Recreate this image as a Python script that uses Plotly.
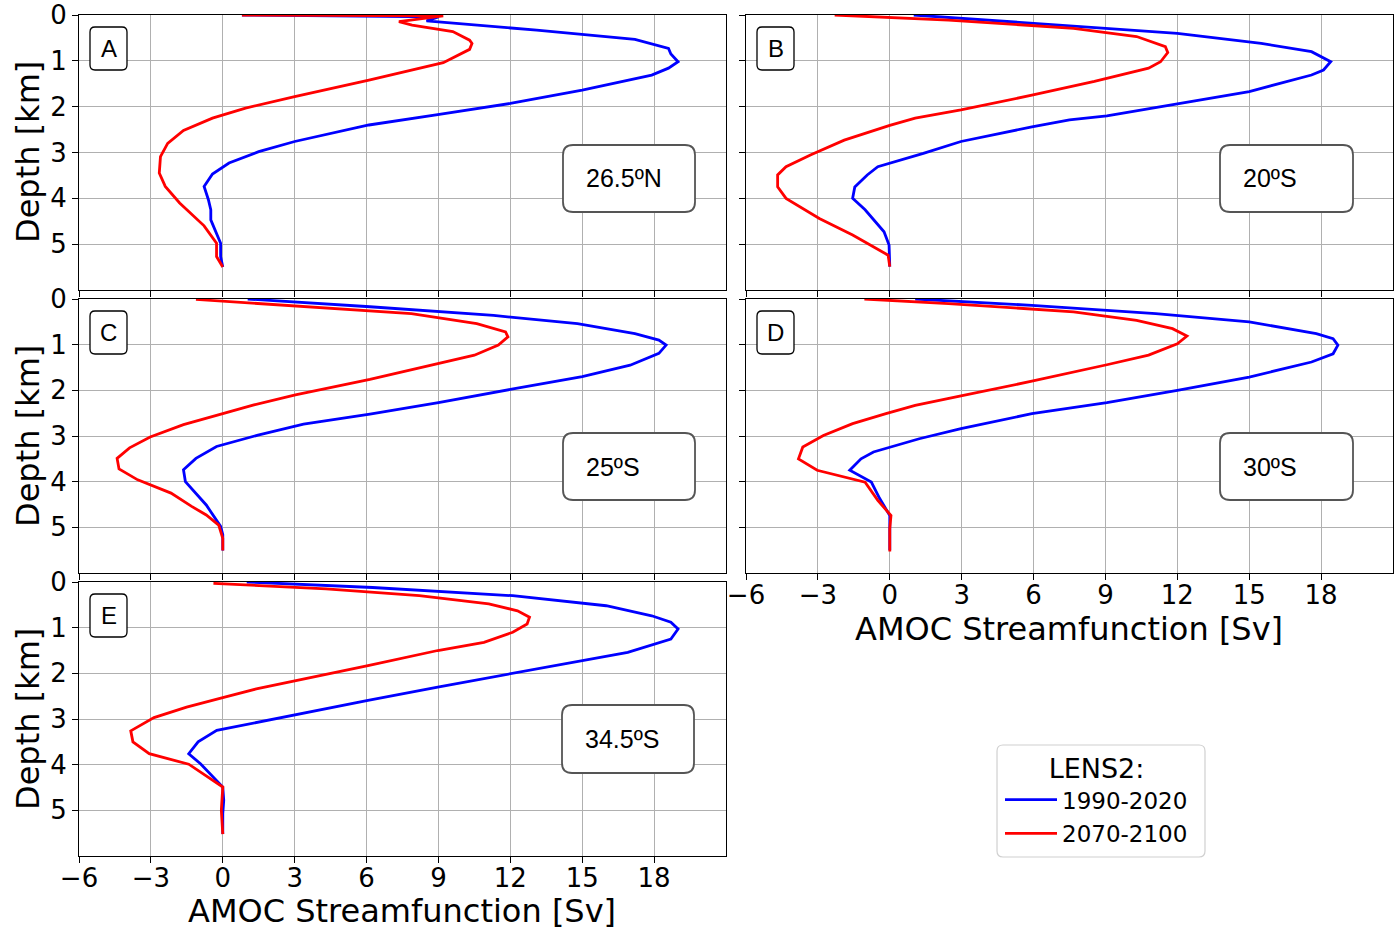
import plotly.graph_objects as go

# ---------------- data (depth in km, AMOC in Sv) ----------------
A_depth_1990 = [0, 0.04, 0.13, 0.33, 0.53, 0.73, 0.85, 1.02, 1.16, 1.31, 1.64, 1.93, 2.18, 2.40, 2.76, 2.98, 3.23, 3.47, 3.74, 4.03, 4.25, 4.47, 4.98, 5.27, 5.5]
A_amoc_1990 = [0.8, 9.0, 8.5, 13.1, 17.2, 18.6, 18.7, 19.0, 18.6, 17.9, 15.0, 12.0, 8.9, 6.1, 3.0, 1.5, 0.26, -0.43, -0.78, -0.6, -0.5, -0.5, -0.09, -0.09, 0.0]
A_depth_2070 = [0, 0.02, 0.145, 0.22, 0.36, 0.55, 0.62, 0.75, 1.04, 1.2, 1.42, 1.78, 2.03, 2.25, 2.52, 2.8, 3.09, 3.45, 3.74, 4.1, 4.6, 4.98, 5.27, 5.5]
A_amoc_2070 = [0.8, 9.2, 7.35, 7.9, 9.6, 10.3, 10.4, 10.3, 9.2, 7.9, 6.1, 3.0, 0.95, -0.43, -1.64, -2.3, -2.6, -2.65, -2.4, -1.8, -0.78, -0.26, -0.26, 0.0]

B_depth_1990 = [0, 0.18, 0.4, 0.62, 0.8, 1.02, 1.2, 1.31, 1.67, 1.94, 2.2, 2.29, 2.44, 2.76, 3.02, 3.31, 3.49, 3.75, 4.0, 4.25, 4.73, 5.02, 5.27, 5.49]
B_amoc_1990 = [1.0, 5.9, 12.0, 15.5, 17.6, 18.4, 18.1, 17.6, 15.0, 12.0, 9.06, 7.5, 5.93, 2.97, 1.4, -0.5, -0.94, -1.46, -1.55, -1.03, -0.24, -0.03, 0.0, 0.0]
B_depth_2070 = [0, 0.11, 0.29, 0.47, 0.69, 0.82, 1.02, 1.16, 1.45, 1.75, 2.07, 2.25, 2.41, 2.73, 3.05, 3.31, 3.49, 3.75, 4.0, 4.44, 4.8, 5.24, 5.49]
B_amoc_2070 = [-2.3, 2.45, 7.67, 10.3, 11.5, 11.6, 11.3, 10.8, 8.54, 5.93, 2.97, 1.06, 0.0, -1.9, -3.29, -4.33, -4.68, -4.68, -4.33, -2.94, -1.55, -0.07, 0.0]

C_depth_1990 = [0, 0.17, 0.36, 0.54, 0.76, 0.9, 1.01, 1.19, 1.45, 1.7, 1.98, 2.27, 2.52, 2.74, 2.98, 3.23, 3.49, 3.74, 4.0, 4.51, 4.98, 5.16, 5.51]
C_amoc_1990 = [1.04, 6.14, 11.3, 14.8, 17.2, 18.2, 18.5, 18.2, 17.0, 15.0, 12.0, 9.0, 6.14, 3.37, 1.47, -0.26, -1.12, -1.64, -1.56, -0.69, -0.09, 0.0, 0.0]
C_depth_2070 = [0.01, 0.14, 0.32, 0.54, 0.72, 0.83, 1.01, 1.23, 1.45, 1.76, 2.1, 2.32, 2.51, 2.75, 3.02, 3.26, 3.49, 3.72, 3.96, 4.25, 4.54, 4.73, 4.95, 5.24, 5.51]
C_amoc_2070 = [-1.12, 2.68, 7.87, 10.6, 11.8, 11.9, 11.5, 10.5, 8.74, 6.14, 3.03, 1.3, 0.0, -1.64, -3.03, -3.89, -4.41, -4.33, -3.55, -2.16, -1.3, -0.69, -0.17, 0.0, 0.0]

D_depth_1990 = [0, 0.14, 0.32, 0.5, 0.76, 0.87, 1.01, 1.2, 1.38, 1.71, 2.0, 2.27, 2.51, 2.84, 3.06, 3.24, 3.35, 3.5, 3.75, 4.01, 4.37, 4.74, 5.03, 5.5]
D_amoc_1990 = [1.06, 5.93, 11.1, 15.0, 17.8, 18.5, 18.7, 18.5, 17.6, 15.0, 12.0, 9.06, 5.93, 2.97, 1.23, 0.0, -0.68, -1.2, -1.67, -0.77, -0.42, 0.0, 0.0, 0.0]
D_depth_2070 = [0, 0.1, 0.28, 0.47, 0.65, 0.81, 0.98, 1.23, 1.44, 1.8, 2.12, 2.33, 2.51, 2.73, 2.99, 3.24, 3.5, 3.75, 4.01, 4.41, 4.74, 5.03, 5.53]
D_amoc_2070 = [-1.06, 2.45, 7.67, 10.3, 11.8, 12.4, 12.0, 10.8, 9.06, 5.93, 2.97, 1.06, -0.16, -1.55, -2.77, -3.63, -3.81, -3.03, -1.03, -0.5, 0.05, 0.0, 0.0]

E_depth_1990 = [0, 0.12, 0.3, 0.52, 0.74, 0.88, 1.03, 1.25, 1.54, 1.72, 2.01, 2.3, 2.59, 2.92, 3.07, 3.25, 3.5, 3.76, 3.98, 4.49, 4.78, 5.07, 5.52]
E_amoc_1990 = [1.0, 6.25, 12.1, 16.0, 17.9, 18.7, 19.0, 18.7, 16.9, 15.0, 12.0, 8.97, 6.06, 2.95, 1.59, -0.25, -1.03, -1.42, -0.93, 0.0, 0.04, 0.0, 0.0]
E_depth_2070 = [0.03, 0.15, 0.3, 0.48, 0.63, 0.77, 0.92, 1.1, 1.32, 1.5, 1.83, 2.16, 2.34, 2.53, 2.74, 2.97, 3.26, 3.5, 3.76, 3.99, 4.49, 5.0, 5.52]
E_amoc_2070 = [-0.39, 4.31, 8.2, 11.1, 12.3, 12.8, 12.7, 12.1, 10.9, 8.97, 6.06, 2.95, 1.4, 0.0, -1.51, -2.87, -3.84, -3.75, -3.07, -1.42, 0.0, -0.06, 0.0]

panel_letters = ["A", "B", "C", "D", "E"]
panel_latitudes = ["26.5ºN", "20ºS", "25ºS", "30ºS", "34.5ºS"]
period_names = ["1990-2020", "2070-2100"]
period_colors = ["#0000ff", "#ff0000"]
x_tickvals = [-6, -3, 0, 3, 6, 9, 12, 15, 18]
y_tickvals = [0, 1, 2, 3, 4, 5]

series = [
    (A_depth_1990, A_amoc_1990, A_depth_2070, A_amoc_2070),
    (B_depth_1990, B_amoc_1990, B_depth_2070, B_amoc_2070),
    (C_depth_1990, C_amoc_1990, C_depth_2070, C_amoc_2070),
    (D_depth_1990, D_amoc_1990, D_depth_2070, D_amoc_2070),
    (E_depth_1990, E_amoc_1990, E_depth_2070, E_amoc_2070),
]

# ---------------- layout geometry (pixels) ----------------
W, H = 1394, 930
panels_px = [
    (79, 15, 726, 290),
    (746, 15, 1393, 290),
    (79, 299, 726, 573),
    (746, 299, 1393, 573),
    (79, 582, 726, 856),
]
lat_boxes_px = [
    (563, 145, 695, 212),
    (1220, 145, 1353, 212),
    (563, 433, 695, 500),
    (1220, 433, 1353, 500),
    (562, 705, 694, 773),
]
show_xlabels = [False, False, False, True, True]
show_ylabels = [True, False, True, False, True]


def px(x):
    return x / W


def py(y):
    return 1 - y / H


def rounded_path(x0, y0, x1, y1, r):
    pts = [
        ("M", (x0 + r, y0)),
        ("L", (x1 - r, y0)),
        ("Q", (x1, y0), (x1, y0 + r)),
        ("L", (x1, y1 - r)),
        ("Q", (x1, y1), (x1 - r, y1)),
        ("L", (x0 + r, y1)),
        ("Q", (x0, y1), (x0, y1 - r)),
        ("L", (x0, y0 + r)),
        ("Q", (x0, y0), (x0 + r, y0)),
    ]
    s = ""
    for item in pts:
        cmd = item[0]
        coords = " ".join(f"{px(p[0]):.5f},{py(p[1]):.5f}" for p in item[1:])
        s += f"{cmd} {coords} "
    return s + "Z"


fig = go.Figure()
layout = dict(
    width=W, height=H,
    margin=dict(l=0, r=0, t=0, b=0, autoexpand=False),
    paper_bgcolor="white", plot_bgcolor="white",
    font=dict(family="DejaVu Sans", color="black"),
    showlegend=True,
)

shapes = []
annotations = []
for i, (x0, y0, x1, y1) in enumerate(panels_px):
    n = "" if i == 0 else str(i + 1)
    xa, ya = "x" + n, "y" + n
    d1, v1, d2, v2 = series[i]
    for k, (dd, vv) in enumerate([(d1, v1), (d2, v2)]):
        fig.add_trace(go.Scatter(
            x=vv, y=dd, mode="lines", name=period_names[k],
            line=dict(color=period_colors[k], width=2.8),
            xaxis=xa, yaxis=ya, showlegend=(i == 0),
            legendgroup=period_names[k],
        ))
    layout["xaxis" + n] = dict(
        domain=[px(x0), px(x1)], anchor=ya, range=[-6, 21],
        tickvals=x_tickvals, showticklabels=show_xlabels[i],
        ticks="outside", ticklen=6, tickcolor="black", tickwidth=1,
        ticklabelstandoff=-7,
        showgrid=True, gridcolor="#b0b0b0", gridwidth=1,
        showline=True, linecolor="black", linewidth=1, mirror=True,
        zeroline=False, tickfont=dict(size=26, family="DejaVu Sans"),
    )
    layout["yaxis" + n] = dict(
        domain=[py(y1), py(y0)], anchor=xa, range=[6, 0],
        tickvals=y_tickvals, showticklabels=show_ylabels[i],
        ticks="outside", ticklen=6, tickcolor="black", tickwidth=1,
        showgrid=True, gridcolor="#b0b0b0", gridwidth=1,
        showline=True, linecolor="black", linewidth=1, mirror=True,
        zeroline=False, tickfont=dict(size=26, family="DejaVu Sans"),
    )
    # panel letter box
    bx0, by0, bx1, by1 = x0 + 11, y0 + 12, x0 + 48, y0 + 55
    shapes.append(dict(type="path", xref="paper", yref="paper",
                       path=rounded_path(bx0, by0, bx1, by1, 5),
                       fillcolor="white", line=dict(color="black", width=1.3),
                       layer="above"))
    annotations.append(dict(x=px((bx0 + bx1) / 2), y=py((by0 + by1) / 2),
                            xref="paper", yref="paper", text=panel_letters[i],
                            showarrow=False, xanchor="center", yanchor="middle",
                            font=dict(size=24, family="Liberation Sans", color="black")))
    # latitude box
    lx0, ly0, lx1, ly1 = lat_boxes_px[i]
    shapes.append(dict(type="path", xref="paper", yref="paper",
                       path=rounded_path(lx0, ly0, lx1, ly1, 10),
                       fillcolor="white", line=dict(color="#555555", width=1.8),
                       layer="above"))
    annotations.append(dict(x=px(lx0 + 21), y=py((ly0 + ly1) / 2),
                            xref="paper", yref="paper", text=panel_latitudes[i],
                            showarrow=False, xanchor="left", yanchor="middle",
                            font=dict(size=25, family="Liberation Sans", color="black")))

# axis titles
for (cx, cy) in [(402, 911), (1069, 629)]:
    annotations.append(dict(x=px(cx), y=py(cy), xref="paper", yref="paper",
                            text="AMOC Streamfunction [Sv]", showarrow=False,
                            xanchor="center", yanchor="middle",
                            font=dict(size=32, family="DejaVu Sans", color="black")))
for cy in [152, 436, 719]:
    annotations.append(dict(x=px(28), y=py(cy), xref="paper", yref="paper",
                            text="Depth [km]", showarrow=False, textangle=-90,
                            xanchor="center", yanchor="middle",
                            font=dict(size=32, family="DejaVu Sans", color="black")))

# legend box
shapes.append(dict(type="path", xref="paper", yref="paper",
                   path=rounded_path(997, 745, 1205, 857, 6),
                   fillcolor="white", line=dict(color="#d0d0d0", width=1.2),
                   layer="above"))

layout["shapes"] = shapes
layout["annotations"] = annotations
layout["legend"] = dict(
    x=px(1000), y=py(743), xanchor="left", yanchor="top",
    bgcolor="rgba(0,0,0,0)", borderwidth=0,
    title=dict(text="LENS2:", side="top center", font=dict(size=27, family="DejaVu Sans")),
    font=dict(size=23, family="DejaVu Sans", color="black"),
    tracegroupgap=1, itemwidth=52,
)
fig.update_layout(**layout)
fig.write_html("out.html")
